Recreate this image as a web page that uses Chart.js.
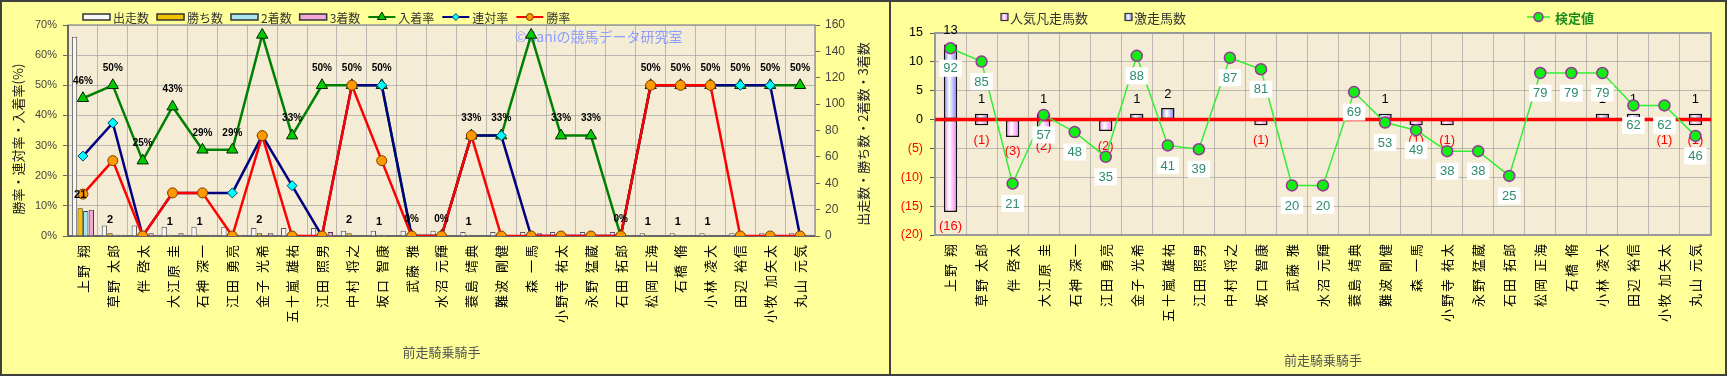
<!DOCTYPE html>
<html><head><meta charset="utf-8">
<script src="https://cdn.jsdelivr.net/npm/chart.js@4.4.1/dist/chart.umd.min.js"></script>
<style>
html,body{margin:0;padding:0;background:#FFFF99;}
#wrap{position:relative;width:1727px;height:376px;background:#FFFF99;overflow:hidden;}
#c1{position:absolute;left:0;top:0;width:890px;height:376px;}
#c2{position:absolute;left:891px;top:0;width:836px;height:376px;}
</style></head><body>
<div id="wrap">
<canvas id="c1" width="890" height="376"></canvas>
<canvas id="c2" width="836" height="376"></canvas>
<div style="position:absolute;left:0;top:0;width:1727px;height:376px;border:2px solid #404040;box-sizing:border-box;pointer-events:none"></div>
<div style="position:absolute;left:889px;top:0;width:2px;height:376px;background:#404040"></div>
</div>
<script>
// ---------- data ----------
const categories = ['上野 翔','草野 太郎','伴 啓太','大江原 圭','石神 深一','江田 勇亮','金子 光希','五十嵐 雄祐','江田 照男','中村 将之','坂口 智康','武藤 雅','水沼 元輝','蓑島 靖典','難波 剛健','森 一馬','小野寺 祐太','永野 猛蔵','石田 拓郎','松岡 正海','石橋 脩','小林 凌大','田辺 裕信','小牧 加矢太','丸山 元気'];
const runs    = [151,8,8,7,7,7,6,6,6,4,4,4,4,3,3,3,3,3,3,2,2,2,2,2,2];
const wins    = [21,2,0,1,1,0,2,0,0,2,1,0,0,1,0,0,0,0,0,1,1,1,0,0,0];
const seconds = [19,1,0,0,0,1,0,1,0,0,1,0,0,0,1,0,0,0,0,0,0,0,1,1,0];
const thirds  = [20,1,2,2,1,1,2,1,3,0,0,0,0,0,0,2,1,1,0,0,0,0,0,0,1];
const winRate    = [13.9,25,0,14.3,14.3,0,33.3,0,0,50,25,0,0,33.3,0,0,0,0,0,50,50,50,0,0,0];
const rentaiRate = [26.5,37.5,0,14.3,14.3,14.3,33.3,16.7,0,50,50,0,0,33.3,33.3,0,0,0,0,50,50,50,50,50,0];
const placeRate  = [45.7,50,25,42.9,28.6,28.6,66.7,33.3,50,50,50,0,0,33.3,33.3,66.7,33.3,33.3,0,50,50,50,50,50,50];
const placeLabels = ['46%','50%','25%','43%','29%','29%','','33%','50%','50%','50%','0%','0%','33%','33%','','33%','33%','0%','50%','50%','50%','50%','50%','50%'];
const gekisou = [13,1,0,1,0,0,1,2,0,0,0,0,0,0,1,0,0,0,0,0,0,1,1,0,1];
const bonsou  = [-16,-1,-3,-2,0,-2,0,0,0,0,-1,0,0,0,0,-1,-1,0,0,0,0,0,0,-1,-1];
const kentei  = [92,85,21,57,48,35,88,41,39,87,81,20,20,69,53,49,38,38,25,79,79,79,62,62,46];

// ---------- common ----------
Chart.defaults.font.family = "'Noto Sans CJK JP','Noto Sans',sans-serif";
Chart.defaults.animation = false;
const NUM = "'Liberation Sans',Arial,sans-serif";
const JP = "'Noto Sans CJK JP',sans-serif";
const PLOT_BG = '#F5ECD6';
const GRID = 'rgba(150,150,150,0.6)';
const nz = a => a.map(v => v === 0 ? null : v);

function xAxis(h){
  return {
    type:'category', offset:true,
    grid:{color:GRID, borderDash:[2,2], drawTicks:false, offset:true},
    border:{display:false},
    ticks:{autoSkip:false, minRotation:90, maxRotation:90, padding:7, color:'#000', font:{family:JP,size:13}, z:1},
    afterFit:s=>{s.height=h;}
  };
}
function vtext(ctx, txt, x, y, font, color){
  ctx.save(); ctx.translate(x,y); ctx.rotate(-Math.PI/2);
  ctx.font=font; ctx.fillStyle=color; ctx.textAlign='center'; ctx.textBaseline='middle';
  ctx.fillText(txt,0,0); ctx.restore();
}

// ---------- left chart ----------
const leftPlugin = {
  id:'leftPlugin',
  beforeDraw(chart){
    const {ctx, chartArea:a} = chart;
    ctx.save(); ctx.fillStyle=PLOT_BG; ctx.fillRect(a.left,a.top,a.width,a.height); ctx.restore();
  },
  beforeDatasetsDraw(chart){
    const {ctx, chartArea:a} = chart;
    ctx.save();
    ctx.strokeStyle='#9a9a9a'; ctx.lineWidth=1.5; ctx.strokeRect(a.left,a.top,a.width,a.height);
    ctx.strokeStyle='#666'; ctx.lineWidth=2;
    ctx.beginPath(); ctx.moveTo(a.left,a.top); ctx.lineTo(a.left,a.bottom); ctx.lineTo(a.right,a.bottom); ctx.stroke();
    ctx.font="14px "+JP; ctx.fillStyle='#8C9CFF'; ctx.textAlign='left'; ctx.textBaseline='middle';
    ctx.fillText('©Ganiの競馬データ研究室', a.left+447, a.top+12);
    ctx.restore();
  },
  afterDatasetsDraw(chart){
    const {ctx, chartArea:a} = chart;
    const ys = chart.scales.y, y2 = chart.scales.y2;
    ctx.save();
    ctx.textAlign='center'; ctx.textBaseline='middle'; ctx.fillStyle='#000';
    // 入着率 labels
    ctx.font="bold 10px "+NUM;
    const mPlace = chart.getDatasetMeta(4);
    placeLabels.forEach((t,i)=>{ if(!t) return; const p=mPlace.data[i]; ctx.fillText(t, p.x, p.y-17); });
    // wins labels
    ctx.font="bold 11px "+NUM;
    const mWin = chart.getDatasetMeta(1);
    wins.forEach((v,i)=>{ if(v>0){ const el=mWin.data[i]; ctx.fillText(String(v), el.x, y2.getPixelForValue(v)-13); } });
    // legend
    let x = 83; const ly = 17;
    ctx.font="12px "+JP; ctx.textAlign='left';
    chart.data.datasets.forEach(ds=>{
      if(ds.type==='bar'){
        ctx.fillStyle=ds.backgroundColor; ctx.fillRect(x,ly-3,27,6);
        ctx.strokeStyle='#333'; ctx.lineWidth=1.5; ctx.strokeRect(x,ly-3,27,6);
      } else {
        ctx.strokeStyle=ds.borderColor; ctx.lineWidth=2;
        ctx.beginPath(); ctx.moveTo(x,ly); ctx.lineTo(x+27,ly); ctx.stroke();
        ctx.fillStyle=ds.pointBackgroundColor; ctx.strokeStyle=ds.pointBorderColor; ctx.lineWidth=1;
        Chart.helpers.drawPoint(ctx,{pointStyle:ds.pointStyle, radius:ds.pointRadius-1.5, rotation:0, borderWidth:1}, x+13.5, ly);
      }
      ctx.fillStyle='#333'; ctx.fillText(ds.label, x+30, ly+1);
      x += 27+3+ctx.measureText(ds.label).width+8;
    });
    // axis titles
    vtext(ctx,'勝率・連対率・入着率(%)', 18, 139, "13px "+JP, '#222');
    vtext(ctx,'出走数・勝ち数・2着数・3着数', 863, 134, "13px "+JP, '#222');
    ctx.font="13px "+JP; ctx.fillStyle='#555'; ctx.textAlign='center';
    ctx.fillText('前走騎乗騎手', (a.left+a.right)/2, 352);
    ctx.restore();
    ctx.letterSpacing='2px';
  },
  afterDraw(chart){ chart.ctx.letterSpacing='0px'; }
};

new Chart(document.getElementById('c1'), {
  type:'bar',
  data:{ labels:categories, datasets:[
    {type:'bar', label:'出走数', data:runs, yAxisID:'y2', backgroundColor:'#F7F7F7', borderColor:'#555', borderWidth:1, order:10, categoryPercentage:0.75, barPercentage:0.95},
    {type:'bar', label:'勝ち数', data:wins, yAxisID:'y2', backgroundColor:'#F2C200', borderColor:'#4a3a00', borderWidth:1, order:10, categoryPercentage:0.75, barPercentage:0.95},
    {type:'bar', label:'2着数', data:seconds, yAxisID:'y2', backgroundColor:'#A8E4EE', borderColor:'#345', borderWidth:1, order:10, categoryPercentage:0.75, barPercentage:0.95},
    {type:'bar', label:'3着数', data:thirds, yAxisID:'y2', backgroundColor:'#F2A6D8', borderColor:'#534', borderWidth:1, order:10, categoryPercentage:0.75, barPercentage:0.95},
    {type:'line', label:'入着率', data:placeRate, yAxisID:'y', borderColor:'#008000', borderWidth:2.5, pointStyle:'triangle', pointRadius:6.5, pointBackgroundColor:'#00CC00', pointBorderColor:'#002200', pointBorderWidth:1, order:3},
    {type:'line', label:'連対率', data:rentaiRate, yAxisID:'y', borderColor:'#000080', borderWidth:2.5, pointStyle:'rectRot', pointRadius:5, pointBackgroundColor:'#00FFFF', pointBorderColor:'#004466', pointBorderWidth:1, order:2},
    {type:'line', label:'勝率', data:winRate, yAxisID:'y', borderColor:'#FF0000', borderWidth:2.5, pointStyle:'circle', pointRadius:5, pointBackgroundColor:'#FF9900', pointBorderColor:'#7a3c00', pointBorderWidth:1, order:1}
  ]},
  options:{
    responsive:false, animation:false,
    layout:{padding:{top:25,left:0,right:0,bottom:0}},
    plugins:{legend:{display:false}, tooltip:{enabled:false}},
    scales:{
      x: xAxis(140),
      y:{position:'left', min:0, max:70,
         ticks:{stepSize:10, callback:v=>v+'%', color:'#444', font:{family:NUM,size:11}, padding:6},
         grid:{color:GRID, borderDash:[2,2], tickLength:5, tickColor:'#666', tickBorderDash:[]},
         border:{display:false}, afterFit:s=>{s.width=68;}},
      y2:{position:'right', min:0, max:160,
         ticks:{stepSize:20, color:'#444', font:{family:NUM,size:12}, padding:5},
         grid:{drawOnChartArea:false, tickLength:5, tickColor:'#666', tickBorderDash:[]},
         border:{display:false}, afterFit:s=>{s.width=75;}}
    }
  },
  plugins:[leftPlugin]
});

// ---------- right chart ----------
function barGrad(color){
  return c => {
    const ch=c.chart, xs=ch.scales && ch.scales.x;
    if(!xs || c.dataIndex===undefined || !ch.chartArea) return color;
    const x=xs.getPixelForValue(c.dataIndex);
    const w=(xs.getPixelForValue(1)-xs.getPixelForValue(0))*0.43;
    const g=ch.ctx.createLinearGradient(x-w/2,0,x+w/2,0);
    g.addColorStop(0,color); g.addColorStop(0.4,'#FFFFFF'); g.addColorStop(1,color);
    return g;
  };
}
const rightPlugin = {
  id:'rightPlugin',
  beforeDraw(chart){
    const {ctx, chartArea:a} = chart;
    ctx.save(); ctx.fillStyle=PLOT_BG; ctx.fillRect(a.left,a.top,a.width,a.height); ctx.restore();
  },
  beforeDatasetsDraw(chart){
    const {ctx, chartArea:a} = chart;
    ctx.save(); ctx.strokeStyle='#9a9a9a'; ctx.lineWidth=2; ctx.strokeRect(a.left,a.top,a.width,a.height); ctx.restore();
  },
  beforeDatasetDraw(chart, args){
    if(args.index!==2) return;
    const {ctx, chartArea:a} = chart;
    const xs=chart.scales.x, ys=chart.scales.y;
    ctx.save();
    const y0=ys.getPixelForValue(0);
    ctx.strokeStyle='#FF0000'; ctx.lineWidth=3.5;
    ctx.beginPath(); ctx.moveTo(a.left,y0); ctx.lineTo(a.right,y0); ctx.stroke();
    ctx.font="13px "+NUM; ctx.textAlign='center'; ctx.textBaseline='middle';
    gekisou.forEach((v,i)=>{ if(v>0){ ctx.fillStyle='#000'; ctx.fillText(String(v), xs.getPixelForValue(i), ys.getPixelForValue(v)-14); } });
    bonsou.forEach((v,i)=>{ if(v<0){ ctx.fillStyle='#FF0000'; ctx.fillText('('+(-v)+')', xs.getPixelForValue(i), ys.getPixelForValue(v)+15); } });
    ctx.restore();
  },
  afterDatasetsDraw(chart){
    const {ctx, chartArea:a} = chart;
    const m=chart.getDatasetMeta(2);
    ctx.save();
    ctx.font="13px "+NUM; ctx.textAlign='center'; ctx.textBaseline='middle';
    kentei.forEach((v,i)=>{
      const p=m.data[i]; const t=String(v); const w=ctx.measureText(t).width+8;
      ctx.fillStyle='#FFFFFF'; ctx.fillRect(p.x-w/2, p.y+20-8.5, w, 17);
      ctx.fillStyle='#2E8B6E'; ctx.fillText(t, p.x, p.y+20.5);
    });
    // legend
    const ly=17;
    const dsB=chart.data.datasets;
    ctx.textAlign='left'; ctx.font="13px "+JP;
    [[0,110],[1,234]].forEach(([di,x])=>{
      const g=ctx.createLinearGradient(x,0,x+7,0);
      g.addColorStop(0,di===0?'#F07CF0':'#7C7CF4'); g.addColorStop(0.45,'#FFF'); g.addColorStop(1,di===0?'#F07CF0':'#7C7CF4');
      ctx.fillStyle=g; ctx.fillRect(x,ly-3.5,7,7);
      ctx.strokeStyle='#333'; ctx.lineWidth=1.2; ctx.strokeRect(x,ly-3.5,7,7);
      ctx.fillStyle='#333'; ctx.fillText(dsB[di].label, x+9, ly+1);
    });
    const ld=dsB[2];
    ctx.strokeStyle=ld.borderColor; ctx.lineWidth=1.5;
    ctx.beginPath(); ctx.moveTo(636,ly); ctx.lineTo(659,ly); ctx.stroke();
    ctx.fillStyle=ld.pointBackgroundColor; ctx.strokeStyle=ld.pointBorderColor; ctx.lineWidth=1.5;
    ctx.beginPath(); ctx.arc(647.5,ly,4.5,0,Math.PI*2); ctx.fill(); ctx.stroke();
    ctx.font="bold 13px "+JP; ctx.fillStyle='#1E8A1E'; ctx.fillText(ld.label, 664, ly+1);
    ctx.font="13px "+JP; ctx.fillStyle='#555'; ctx.textAlign='center';
    ctx.fillText('前走騎乗騎手', (a.left+a.right)/2, 360);
    ctx.restore();
    ctx.letterSpacing='2px';
  },
  afterDraw(chart){ chart.ctx.letterSpacing='0px'; }
};

const xR = xAxis(141); xR.stacked = true;
new Chart(document.getElementById('c2'), {
  type:'bar',
  data:{ labels:categories, datasets:[
    {type:'bar', label:'人気凡走馬数', data:nz(bonsou), stack:'s', backgroundColor:barGrad('#F07CF0'), borderColor:'#111', borderWidth:1.5, borderSkipped:false, barPercentage:0.43, categoryPercentage:1, order:5},
    {type:'bar', label:'激走馬数', data:nz(gekisou), stack:'s', backgroundColor:barGrad('#7C7CF4'), borderColor:'#111', borderWidth:1.5, borderSkipped:false, barPercentage:0.43, categoryPercentage:1, order:5},
    {type:'line', label:'検定値', data:kentei, yAxisID:'y2', borderColor:'#33EE33', borderWidth:1.5, pointRadius:5.5, pointBackgroundColor:'#11EE11', pointBorderColor:'#993399', pointBorderWidth:1.5, order:1}
  ]},
  options:{
    responsive:false, animation:false,
    layout:{padding:{top:33,left:0,right:16,bottom:0}},
    plugins:{legend:{display:false}, tooltip:{enabled:false}},
    scales:{
      x: xR,
      y:{position:'left', stacked:true, min:-20, max:15,
         ticks:{stepSize:5, callback:v=>v<0?'('+(-v)+')':String(v), color:c=>c.tick.value<0?'#FF0000':'#000', font:{family:NUM,size:12.5}, padding:7},
         grid:{color:GRID, borderDash:[2,2], tickLength:5, tickColor:'#555', tickBorderDash:[]},
         border:{display:false}, afterFit:s=>{s.width=44;}},
      y2:{display:false, min:-6, max:100}
    }
  },
  plugins:[rightPlugin]
});
</script>
</body></html>
